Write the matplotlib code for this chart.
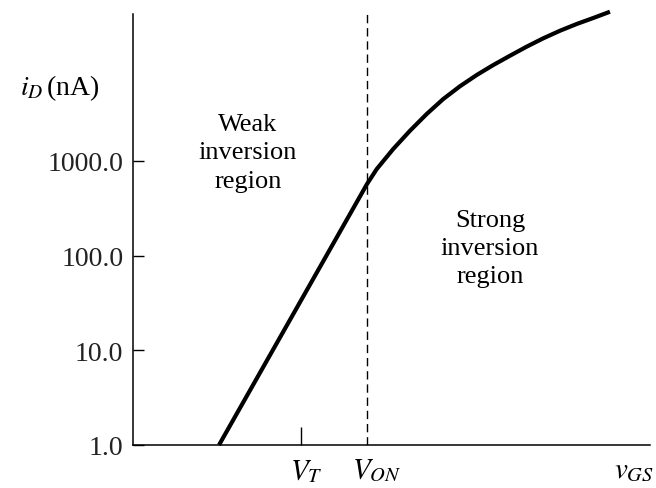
import numpy as np
import matplotlib
matplotlib.use("Agg")
import matplotlib.pyplot as plt

# MOSFET drain current vs gate-source voltage (log scale), arbitrary voltage units
V_T = 1.0
V_ON = 1.393

# weak inversion: straight line on the log axis
weak_vgs = [0.512, V_ON]
weak_id = [1.0, 570.0]

# strong inversion: bends over above V_ON
strong_vgs = [V_ON, 1.451, 1.549, 1.649, 1.748, 1.847, 1.946, 2.046,
              2.145, 2.244, 2.343, 2.442, 2.542, 2.641, 2.740, 2.839]
strong_id = [570.0, 821.0, 1336.0, 2084.0, 3126.0, 4506.0, 6135.0, 8075.0,
             10300.0, 12900.0, 16070.0, 19700.0, 23700.0, 27900.0, 32300.0, 37600.0]

ytick_vals = [1.0, 10.0, 100.0, 1000.0]
ytick_labels = ["1.0", "10.0", "100.0", "1000.0"]

plt.rcParams['font.family'] = 'serif'
plt.rcParams['font.serif'] = ['Liberation Serif', 'DejaVu Serif']
plt.rcParams['mathtext.fontset'] = 'stix'

fig = plt.figure(figsize=(6.56, 4.89), dpi=100)
ax = fig.add_axes([133 / 656, 43 / 489, 517 / 656, 445 / 489])

ax.set_yscale('log')
ax.set_ylim(1.0, 10 ** 4.699)
ax.set_xlim(0, 517 / 168)

curve_vgs = weak_vgs + strong_vgs[1:]
curve_id = weak_id + strong_id[1:]
ax.plot(curve_vgs, curve_id, color='black', lw=3.0, solid_capstyle='butt',
        solid_joinstyle='round', clip_on=False, zorder=3)

# V_ON marker
ax.axvline(V_ON, ymin=0, ymax=0.971, color='black', lw=1.0,
           linestyle=(0, (6, 3.5)))

for side in ['top', 'right']:
    ax.spines[side].set_visible(False)
ax.spines['left'].set_bounds(1.0, 10 ** 4.55)
ax.spines['left'].set_linewidth(1.1)
ax.spines['bottom'].set_linewidth(1.1)

ax.set_yticks(ytick_vals)
ax.set_yticklabels(ytick_labels, fontsize=20, color='#222222')
ax.yaxis.set_minor_locator(matplotlib.ticker.NullLocator())
ax.tick_params(axis='y', direction='in', length=8, width=1.0, pad=7)

ax.set_xticks([V_T])
ax.set_xticklabels([""])
ax.tick_params(axis='x', direction='in', length=13, width=1.0)

# axis symbol labels
xlab = ax.get_xaxis_transform()
ax.text(V_T + 0.03, -0.027, r"$V_T$", transform=xlab,
        ha='center', va='top', fontsize=21)
ax.text(V_ON + 0.06, -0.027, r"$V_{ON}$", transform=xlab,
        ha='center', va='top', fontsize=21)
ax.text(2.985, -0.027, r"$v_{GS}$", transform=xlab,
        ha='center', va='top', fontsize=21)
fig.text(20 / 656, 1 - 95 / 489, r"$i_D\,$(nA)", ha='left', va='baseline',
         fontsize=20)

# region annotations
ax.text(0.685, 10 ** 3.09, "Weak\ninversion\nregion", ha='center', va='center',
        fontsize=19, linespacing=1.38)
ax.text(2.125, 10 ** 2.08, "Strong\ninversion\nregion", ha='center', va='center',
        fontsize=19, linespacing=1.38)

fig.savefig("out.png", dpi=100)
